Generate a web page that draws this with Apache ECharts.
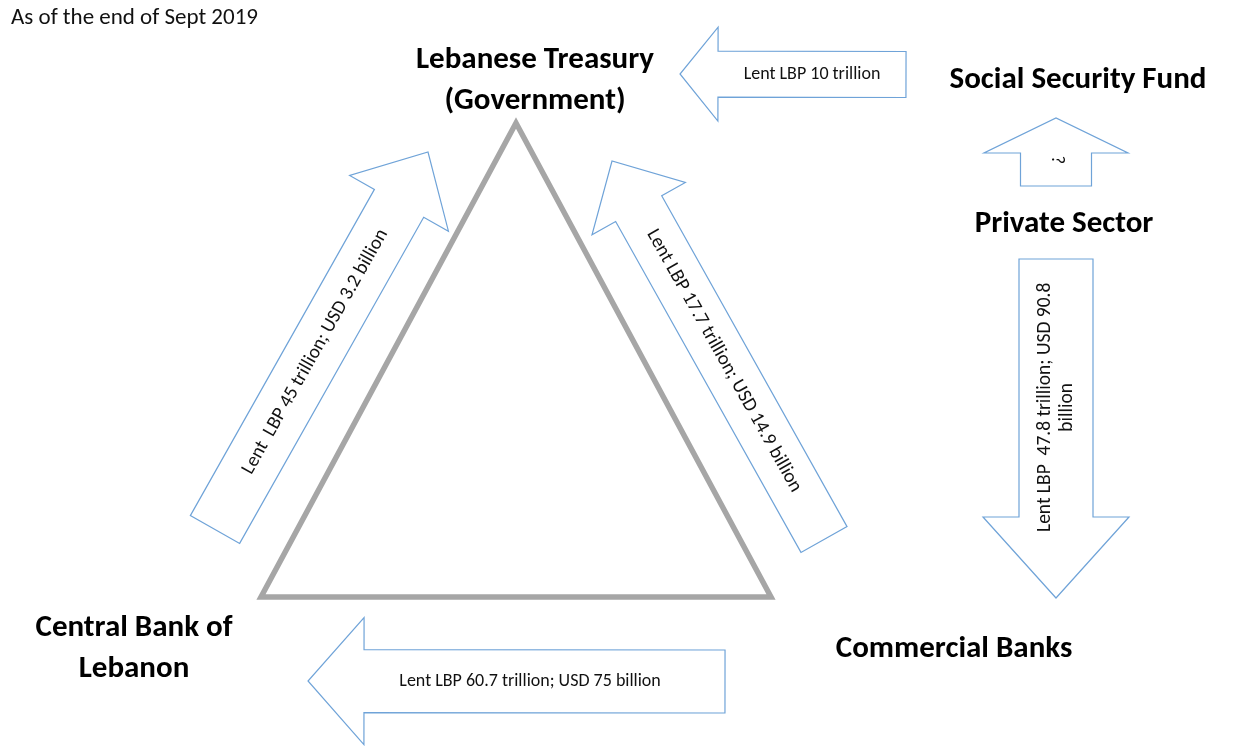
<!DOCTYPE html>
<html>
<head>
<meta charset="utf-8">
<script src="https://cdn.jsdelivr.net/npm/echarts@6/dist/echarts.min.js"></script>
<style>
  html, body { margin: 0; padding: 0; background: #fff; }
  #chart { width: 1250px; height: 746px; }
</style>
</head>
<body>
<div id="chart"></div>
<script>
// ---------- content ----------
const titleText = 'As of the end of Sept 2019';
const nodeNames = ['Lebanese Treasury\n(Government)', 'Social Security Fund', 'Private Sector', 'Central Bank of\nLebanon', 'Commercial Banks'];
const flowFrom = ['Social Security Fund', 'Private Sector', 'Private Sector', 'Commercial Banks', 'Central Bank of\nLebanon', 'Commercial Banks'];
const flowTo = ['Lebanese Treasury\n(Government)', 'Social Security Fund', 'Commercial Banks', 'Central Bank of\nLebanon', 'Lebanese Treasury\n(Government)', 'Lebanese Treasury\n(Government)'];
const lentLBPtrillion = [10, null, 47.8, 60.7, 45, 17.7];
const lentUSDbillion = [null, null, 90.8, 75, 3.2, 14.9];
const flowLabels = [
  'Lent LBP 10 trillion',
  '?',
  'Lent LBP  47.8 trillion; USD 90.8\nbillion',
  'Lent LBP 60.7 trillion; USD 75 billion',
  'Lent  LBP 45 trillion; USD 3.2 billion',
  'Lent LBP 17.7 trillion; USD 14.9 billion'
];

// ---------- layout (diagram coordinates) ----------
const nodeX = [535, 1078, 1064, 134, 954];
const nodeY = [81, 80, 224, 648.5, 649];
const triangleVertices = [[516, 123], [261, 597], [771, 597]];
const arrowTail = [[906, 74.5], [1056, 186], [1056, 259], [725, 681.5], [215, 529.5], [824, 539.5]];
const arrowTip = [[680, 74], [1056, 118], [1056, 598], [308, 681], [428, 152], [612, 161]];
const shaftHalf = [23, 35.5, 37, 31.5, 28.3, 26.4];
const headHalf = [47, 72, 73, 63.5, 56.7, 53.5];
const headLen = [38, 35, 81, 56, 58.9, 54.6];
const labelFrac = [0.5, 0.79, 0.575, 0.54, 0.545, 0.54];
const labelRotDeg = [0, -90, 90, 0, 60.6, -60.7];
const labelFontSize = [18, 18, 19.5, 18, 19.5, 19.5];

const FONT = 'Carlito, Lato, "Open Sans", sans-serif';

const chart = echarts.init(document.getElementById('chart'));

chart.setOption({
  backgroundColor: '#ffffff',
  animation: false,
  title: {
    text: titleText,
    left: 6, top: 2,
    textStyle: { fontFamily: FONT, fontSize: 23, fontWeight: 'normal', color: '#111' }
  },
  grid: { left: 0, right: 0, top: 0, bottom: 0 },
  xAxis: { type: 'value', min: 0, max: 1250, show: false },
  yAxis: { type: 'value', min: 0, max: 746, inverse: true, show: false },
  series: [
    {
      type: 'custom',
      name: 'triangle',
      data: [0],
      silent: true,
      renderItem: function (params, api) {
        const pts = triangleVertices.map(p => api.coord(p));
        return {
          type: 'polygon',
          shape: { points: pts },
          style: { fill: 'none', stroke: '#a6a6a6', lineWidth: 5.5, lineJoin: 'miter', miterLimit: 10 }
        };
      }
    },
    {
      type: 'custom',
      name: 'flows',
      data: flowLabels.map((t, i) => [i, lentLBPtrillion[i], lentUSDbillion[i]]),
      silent: true,
      renderItem: function (params, api) {
        const i = api.value(0);
        const T = api.coord(arrowTail[i]);
        const P = api.coord(arrowTip[i]);
        const dx = P[0] - T[0], dy = P[1] - T[1];
        const len = Math.sqrt(dx * dx + dy * dy);
        const ux = dx / len, uy = dy / len;
        const nx = -uy, ny = ux;
        const w = shaftHalf[i], h = headHalf[i], L = headLen[i];
        const B = [P[0] - ux * L, P[1] - uy * L];
        const pts = [
          [T[0] + nx * w, T[1] + ny * w],
          [B[0] + nx * w, B[1] + ny * w],
          [B[0] + nx * h, B[1] + ny * h],
          P,
          [B[0] - nx * h, B[1] - ny * h],
          [B[0] - nx * w, B[1] - ny * w],
          [T[0] - nx * w, T[1] - ny * w]
        ];
        const f = labelFrac[i];
        const lx = T[0] + (B[0] - T[0]) * f;
        const ly = T[1] + (B[1] - T[1]) * f;
        return {
          type: 'group',
          children: [
            {
              type: 'polygon',
              shape: { points: pts },
              style: { fill: '#ffffff', stroke: '#6fa3d8', lineWidth: 1.2, lineJoin: 'miter' }
            },
            {
              type: 'text',
              x: lx, y: ly,
              rotation: labelRotDeg[i] * Math.PI / 180,
              style: {
                text: flowLabels[i],
                fill: '#111',
                fontFamily: FONT,
                fontSize: labelFontSize[i],
                lineHeight: 22,
                align: 'center',
                verticalAlign: 'middle'
              }
            }
          ]
        };
      }
    },
    {
      type: 'custom',
      name: 'nodes',
      data: nodeNames.map((n, i) => [nodeX[i], nodeY[i]]),
      silent: true,
      renderItem: function (params, api) {
        const c = api.coord([api.value(0), api.value(1)]);
        return {
          type: 'text',
          x: c[0], y: c[1],
          style: {
            text: nodeNames[params.dataIndex],
            fill: '#000',
            fontFamily: FONT,
            fontSize: 31,
            fontWeight: 'bold',
            lineHeight: 41,
            align: 'center',
            verticalAlign: 'middle'
          }
        };
      }
    }
  ]
});
</script>
</body>
</html>
